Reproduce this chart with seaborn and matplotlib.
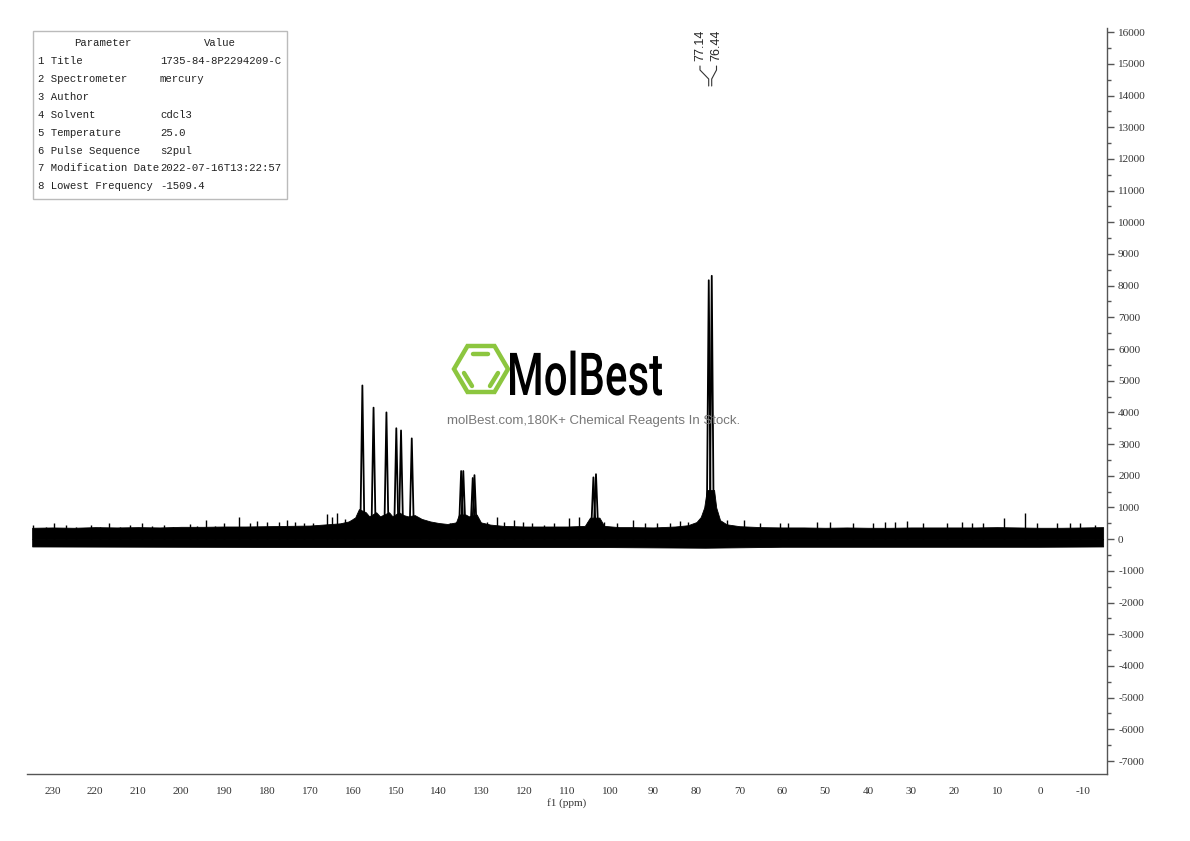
import numpy as np
import pandas as pd
import seaborn as sns
import matplotlib
matplotlib.use("Agg")
import matplotlib.pyplot as plt
from matplotlib.patches import Rectangle, PathPatch, Polygon
from matplotlib.lines import Line2D
from matplotlib.textpath import TextPath
from matplotlib.font_manager import FontProperties
from matplotlib.transforms import Affine2D
from matplotlib.ticker import MultipleLocator

peak_ppm = [157.8, 155.2, 152.2, 149.9, 148.8, 146.3, 134.8, 134.3,
            132.1, 131.7, 104.0, 103.4, 77.14, 76.44]
peak_height = [4850, 4150, 4000, 3500, 3430, 3180, 2150, 2150,
               1930, 2020, 1950, 2050, 8170, 8310]
peak_labels = ["77.14", "76.44"]

# borde superior de la banda de ruido
noise_ppm = [234.7, 230, 225, 220, 215, 210, 205, 200, 195, 190, 185, 180,
             175, 170, 166, 163, 161, 159.5, 158.6, 157.0, 156.2, 154.6,
             153.7, 151.6, 150.8, 149.3, 148.2, 147.2, 145.6, 144, 142, 140,
             138, 136, 135.3, 133.8, 133.0, 131.2, 130.2, 128, 125, 120, 115,
             110, 106, 104.8, 102.6, 101.5, 98, 95, 90, 85, 82, 80, 79, 78.2,
             77.6, 75.9, 75.4, 74.5, 73, 70, 65, 60, 55, 50, 45, 40, 35, 30,
             25, 20, 15, 10, 5, 0, -5, -10, -14.7]
noise_top = [360, 370, 360, 380, 370, 380, 370, 390, 390, 400, 400, 410,
             420, 430, 470, 500, 560, 680, 950, 850, 720, 850,
             720, 850, 720, 850, 760, 720, 760, 640, 560, 510,
             480, 530, 780, 780, 720, 780, 530, 460, 420, 400, 400,
             400, 420, 680, 680, 420, 380, 380, 370, 400, 440, 540, 700, 1000,
             1550, 1550, 1000, 600, 470, 410, 380, 370, 370, 360, 370, 360, 360, 370,
             370, 370, 370, 380, 370, 360, 360, 370, 380]
# borde inferior de la banda de ruido
base_ppm = [234.7, 200, 160, 140, 120, 100, 78, 60, 30, 0, -14.7]
base_low = [-230, -240, -250, -250, -250, -250, -270, -240, -240, -240, -230]

# picos de ruido sueltos
spike_ppm = [234.4, 231.5, 229.7, 226.8, 224.5, 221.0, 218.8, 216.7, 214.2,
             211.9, 209.1, 206.8, 204.1, 201.8, 197.9, 196.4, 194.3, 192.1,
             190.1, 186.6, 183.9, 182.3, 180.0, 177.3, 175.3, 173.6, 171.3,
             169.2, 166.1, 164.9, 163.6, 161.8, 159.8, 144.4, 142.4, 139.7,
             137.4, 135.9, 128.8, 126.5, 124.8, 122.5, 120.5, 118.2, 115.5,
             113.2, 109.8, 107.3, 105.3, 101.6, 98.5, 94.7, 91.9, 89.3, 86.2,
             83.8, 81.9, 72.9, 69.0, 65.2, 60.5, 58.6, 52.0, 48.9, 43.5, 38.8,
             36.1, 33.8, 31.0, 27.2, 21.7, 18.2, 15.8, 13.2, 8.5, 3.5, 0.8,
             -3.9, -7.0, -9.3, -12.8]
spike_height = [445, 391, 498, 445, 391, 445, 391, 498, 391,
                445, 498, 414, 445, 391, 477, 414, 603, 414,
                498, 708, 498, 582, 550, 550, 603, 550, 498,
                519, 793, 688, 835, 624, 656, 550, 498, 445,
                498, 550, 550, 708, 550, 603, 550, 498, 445,
                498, 677, 693, 550, 550, 498, 603, 498, 498, 498,
                582, 550, 603, 603, 498, 498, 498, 550, 550, 498, 498,
                550, 530, 582, 498, 498, 550, 498, 498, 656, 835, 498,
                498, 498, 498, 445]

table_params = ["1 Title", "2 Spectrometer", "3 Author", "4 Solvent",
                "5 Temperature", "6 Pulse Sequence", "7 Modification Date",
                "8 Lowest Frequency"]
table_values = ["1735-84-8P2294209-C", "mercury", "", "cdcl3", "25.0",
                "s2pul", "2022-07-16T13:22:57", "-1509.4"]

W, H = 1190, 841


def px(x, y):
    return x / W, 1 - y / H


sns.set_style("white")
plt.rcParams["font.family"] = ["Liberation Serif", "DejaVu Serif"]
plt.rcParams["axes.unicode_minus"] = False

fig = plt.figure(figsize=(W / 100, H / 100), dpi=100)
ax = fig.add_axes([27 / W, 1 - 774 / H, (1107 - 27) / W, (774 - 28) / H])

# banda de ruido
ax.fill_between(base_ppm, base_low, 0, color="black", lw=0.6)
ax.fill_between(noise_ppm, 0, noise_top, color="black", lw=0.6)
ax.vlines(spike_ppm, 0, spike_height, color="black", lw=1.0)

# picos como triangulos finos
rows = []
for i, (p, h) in enumerate(zip(peak_ppm, peak_height)):
    rows += [(i, p - 0.45, 500), (i, p, h), (i, p + 0.45, 500)]
df_peaks = pd.DataFrame(rows, columns=["pico", "ppm", "intensidad"])
sns.lineplot(data=df_peaks, x="ppm", y="intensidad", units="pico",
             estimator=None, color="black", lw=1.3, ax=ax, legend=False)

ax.set_xlim(235.9, -15.6)
ax.set_ylim(-7410, 16130)
for s in ["left", "top"]:
    ax.spines[s].set_visible(False)
for s in ["right", "bottom"]:
    ax.spines[s].set_color("#555555")
    ax.spines[s].set_linewidth(1.0)
ax.yaxis.tick_right()
ax.xaxis.set_major_locator(MultipleLocator(10))
ax.xaxis.set_minor_locator(MultipleLocator(5))
ax.yaxis.set_major_locator(MultipleLocator(1000))
ax.yaxis.set_minor_locator(MultipleLocator(500))
ax.tick_params(which="major", length=5, width=1, color="#555555",
               direction="out", labelsize=8, labelcolor="#333333", pad=3)
ax.tick_params(axis="x", which="major", pad=4)
ax.tick_params(which="minor", length=3, width=1, color="#555555",
               direction="out")
ax.tick_params(axis="y", which="both", left=False, right=True)
ax.set_xlabel("f1 (ppm)", fontsize=8, color="#333333", labelpad=2)
ax.set_ylabel("")

# etiquetas de picos
for lbl, xlab, xpk in zip(peak_labels, [700, 716.5], [708.7, 711.7]):
    fig.text(*px(xlab, 61), lbl, rotation=90, ha="center", va="bottom",
             fontsize=9, family="Liberation Sans", color="#222222")
    xs, ys = zip(*[px(xlab, 66), px(xlab, 70), px(xpk, 79), px(xpk, 86)])
    fig.add_artist(Line2D(xs, ys, color="#333333", lw=0.8,
                          transform=fig.transFigure))

# tabla de parametros
x0, y0 = px(33, 199)
x1, y1 = px(287, 31)
fig.add_artist(Rectangle((x0, y0), x1 - x0, y1 - y0, fill=False,
                         edgecolor="#bbbbbb", lw=1, transform=fig.transFigure))
mono = ["Liberation Mono", "DejaVu Sans Mono"]
fig.text(*px(103, 43), "Parameter", ha="center", va="center", fontsize=7.7,
         family=mono, color="#222222")
fig.text(*px(220, 43), "Value", ha="center", va="center", fontsize=7.7,
         family=mono, color="#222222")
for i, (p, v) in enumerate(zip(table_params, table_values)):
    yy = 61 + i * 17.9
    fig.text(*px(38, yy), p, ha="left", va="center", fontsize=7.7,
             family=mono, color="#222222")
    fig.text(*px(160, yy), v, ha="left", va="center", fontsize=7.7,
             family=mono, color="#222222")

# marca de agua MolBest
green = "#8cc63f"
hexv = [px(454, 369), px(467.5, 346), px(494.5, 346), px(508, 369),
        px(494.5, 392), px(467.5, 392)]
fig.add_artist(Polygon(hexv, closed=True, fill=False, edgecolor=green,
                       lw=3.2, transform=fig.transFigure))
for (xa, ya), (xb, yb) in [((473, 354), (488, 354)),
                           ((464, 373), (472, 386)),
                           ((498, 373), (490, 386))]:
    xs, ys = zip(px(xa, ya), px(xb, yb))
    fig.add_artist(Line2D(xs, ys, color=green, lw=3.2,
                          solid_capstyle="round", transform=fig.transFigure))
tp = TextPath((0, 0), "MolBest", size=1,
              prop=FontProperties(family="Roboto", weight="medium"))
ext = tp.get_extents()
sx = (152 / W) / ext.width
sy = (45 / H) / ext.height
trans = (Affine2D().translate(-ext.x0, 0).scale(sx, sy)
         .translate(*px(510, 395)) + fig.transFigure)
fig.add_artist(PathPatch(tp, facecolor="black", edgecolor="none",
                         transform=trans))
fig.text(*px(594, 421), "molBest.com,180K+ Chemical Reagents In Stock.",
         ha="center", va="center", fontsize=9.5, family="Liberation Sans",
         color="#777777")

fig.savefig("out.png", dpi=100)
